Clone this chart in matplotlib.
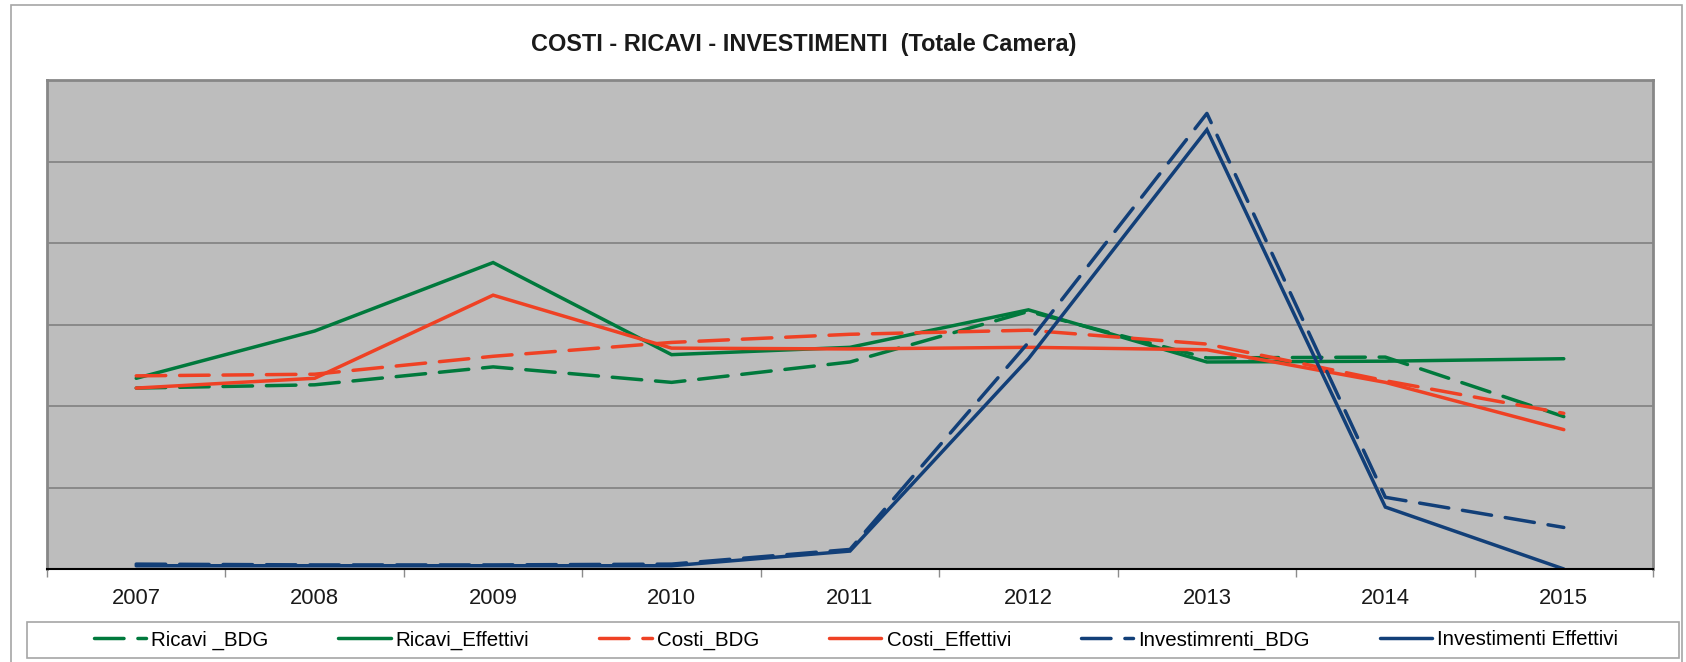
#!/usr/bin/env python3
# costi / ricavi / investimenti – Excel-style line chart
import matplotlib as mpl

mpl.rcParams["font.family"] = ["Liberation Sans", "DejaVu Sans"]

import matplotlib.pyplot as plt
from matplotlib.patches import Rectangle

# ─── data (gridline step = 1 unit) ───────────────────────────────────
years = ["2007", "2008", "2009", "2010", "2011", "2012", "2013", "2014", "2015"]

ricavi_bdg = [2.22, 2.26, 2.48, 2.29, 2.54, 3.16, 2.59, 2.60, 1.87]
ricavi_eff = [2.34, 2.92, 3.76, 2.63, 2.72, 3.18, 2.54, 2.55, 2.58]
costi_bdg = [2.37, 2.39, 2.61, 2.78, 2.88, 2.93, 2.76, 2.31, 1.91]
costi_eff = [2.22, 2.34, 3.36, 2.71, 2.70, 2.72, 2.69, 2.29, 1.71]
invest_bdg = [0.06, 0.05, 0.05, 0.06, 0.24, 2.78, 5.59, 0.88, 0.51]
invest_eff = [0.04, 0.04, 0.04, 0.04, 0.22, 2.58, 5.39, 0.76, 0.00]

labels = [
    "Ricavi _BDG",
    "Ricavi_Effettivi",
    "Costi_BDG",
    "Costi_Effettivi",
    "Investimrenti_BDG",
    "Investimenti Effettivi",
]

GREEN = "#00793C"
RED = "#EF4124"
BLUE = "#123F78"

W, H = 1686, 662
fig = plt.figure(figsize=(W / 100, H / 100), dpi=100)

# outer chart frame
fig.patches.append(
    Rectangle((11 / W, -0.05), (1682 - 11) / W, 1.05 - 5 / H,
              transform=fig.transFigure, fill=False,
              edgecolor="#A6A6A6", linewidth=1.2)
)

ax = fig.add_axes([47 / W, 1 - 569 / H, (1653 - 47) / W, (569 - 80) / H])
ax.set_facecolor("#BDBDBD")

x = list(range(len(years)))
lw = 2.5
dash = (8.5, 4.0)
series = [
    (ricavi_bdg, GREEN, True),
    (ricavi_eff, GREEN, False),
    (costi_bdg, RED, True),
    (costi_eff, RED, False),
    (invest_bdg, BLUE, True),
    (invest_eff, BLUE, False),
]
for (vals, col, dashed), lab in zip(series, labels):
    ln, = ax.plot(x, vals, color=col, lw=lw, label=lab,
                  solid_capstyle="round", dash_capstyle="round",
                  solid_joinstyle="miter")
    if dashed:
        ln.set_dashes(dash)

ax.set_xlim(-0.5, len(years) - 0.5)
ax.set_ylim(0, 6)
ax.set_yticks(range(0, 7))
ax.set_yticklabels([])
ax.tick_params(axis="y", length=0)
ax.grid(axis="y", color="#858585", lw=1.3)
ax.set_axisbelow(True)

# boundaries as major ticks, year labels on minor ticks
ax.set_xticks([i - 0.5 for i in range(len(years) + 1)])
ax.set_xticklabels([])
ax.tick_params(axis="x", which="major", length=6, width=1, color="#8C8C8C")
ax.set_xticks(x, minor=True)
ax.set_xticklabels(years, minor=True, fontsize=15.8, color="#1A1A1A")
ax.tick_params(axis="x", which="minor", length=0, pad=13.5)

for side in ("top", "left", "right"):
    ax.spines[side].set_color("#878787")
    ax.spines[side].set_linewidth(2)
ax.spines["bottom"].set_color("black")
ax.spines["bottom"].set_linewidth(1.5)

fig.text(804 / W, 1 - 45 / H, "COSTI - RICAVI - INVESTIMENTI  (Totale Camera)",
         ha="center", va="center", fontsize=16.9, fontweight="bold",
         color="#1A1A1A")

# legend box + entries
fig.patches.append(
    Rectangle((27 / W, 1 - 658 / H), (1679 - 27) / W, 36 / H,
              transform=fig.transFigure, fill=False,
              edgecolor="#A6A6A6", linewidth=1.2)
)
handles, labs = ax.get_legend_handles_labels()
fig.legend(handles, labs, loc="center", bbox_to_anchor=(856 / W, 1 - 640 / H),
           ncol=6, frameon=False, fontsize=14.8, handlelength=2.55,
           handletextpad=0.25, columnspacing=3.4, borderpad=0)

fig.savefig("out.png", dpi=100)
